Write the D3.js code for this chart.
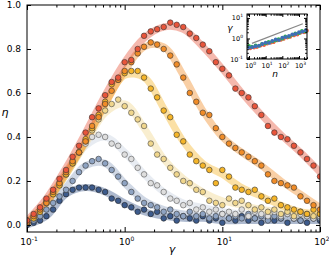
<!DOCTYPE html>
<html>
<head>
<meta charset="utf-8">
<script src="https://cdn.jsdelivr.net/npm/d3@7"></script>
<style>
body { margin: 0; background: #fff; }
svg { display: block; }
text { font-family: "DejaVu Sans", sans-serif; fill: #000; }
</style>
</head>
<body>
<svg id="chart" width="329" height="257"></svg>
<script>
// gamma values of the measured points (shared by all series)
var gammas = [0.100,0.117,0.136,0.158,0.185,0.215,0.251,0.293,0.341,0.398,0.464,0.541,0.631,0.736,0.858,
  1.00,1.17,1.36,1.58,1.85,2.15,2.51,2.93,3.41,3.98,4.64,5.41,6.31,7.36,8.58,
  10.0,11.7,13.6,15.8,18.5,21.5,25.1,29.3,34.1,39.8,46.4,54.1,63.1,73.6,85.8,100];

var etaRed = [0.02,0.05,0.08,0.12,0.16,0.21,0.25,0.31,0.36,0.42, 0.49,0.53,0.59,0.65,0.67,0.74,0.75,0.80,0.86,0.88,
  0.89,0.90,0.92,0.91,0.90,0.87,0.85,0.82,0.79,0.74, 0.71,0.68,0.62,0.60,0.58,0.54,0.50,0.45,0.42,0.40,
  0.39,0.36,0.33,0.30,0.27,0.22];
var etaOrange = [0.01,0.04,0.07,0.10,0.15,0.19,0.24,0.29,0.33,0.38, 0.45,0.49,0.55,0.61,0.66,0.70,0.74,0.78,0.81,0.83,
  0.82,0.80,0.77,0.73,0.67,0.60,0.56,0.51,0.50,0.44, 0.40,0.37,0.35,0.33,0.31,0.29,0.27,0.23,0.20,0.19,
  0.18,0.17,0.13,0.11,0.09,0.07];
var etaAmber = [0.02,0.03,0.06,0.11,0.14,0.18,0.23,0.28,0.33,0.39, 0.44,0.50,0.56,0.64,0.66,0.69,0.70,0.70,0.67,0.62,
  0.58,0.52,0.49,0.41,0.38,0.32,0.29,0.27,0.25,0.19, 0.25,0.22,0.17,0.16,0.15,0.16,0.13,0.11,0.12,0.09,
  0.08,0.07,0.06,0.05,0.07,0.05];
var etaPale = [0.01,0.04,0.07,0.10,0.14,0.19,0.23,0.28,0.33,0.38, 0.43,0.48,0.52,0.55,0.57,0.54,0.51,0.48,0.45,0.37,
  0.32,0.30,0.26,0.23,0.20,0.19,0.16,0.15,0.11,0.10, 0.09,0.12,0.10,0.11,0.09,0.07,0.08,0.06,0.07,0.05,
  0.06,0.04,0.06,0.05,0.04,0.05];
var etaGray = [0.02,0.03,0.06,0.10,0.15,0.18,0.23,0.29,0.33,0.37, 0.40,0.41,0.40,0.37,0.36,0.32,0.30,0.26,0.23,0.19,
  0.18,0.15,0.12,0.11,0.09,0.10,0.07,0.08,0.06,0.07, 0.05,0.06,0.05,0.07,0.04,0.06,0.05,0.04,0.06,0.04,
  0.05,0.03,0.05,0.04,0.03,0.04];
var etaSteel = [0.01,0.02,0.04,0.07,0.10,0.13,0.16,0.20,0.24,0.27, 0.29,0.30,0.28,0.25,0.22,0.19,0.15,0.12,0.10,0.09,
  0.08,0.06,0.07,0.05,0.04,0.06,0.04,0.05,0.03,0.04, 0.05,0.03,0.04,0.03,0.05,0.03,0.04,0.02,0.04,0.03,
  0.05,0.03,0.02,0.04,0.03,0.03];
var etaNavy = [0.00,0.01,0.02,0.04,0.07,0.11,0.14,0.16,0.17,0.17, 0.17,0.16,0.15,0.12,0.11,0.09,0.08,0.06,0.07,0.05,
  0.06,0.03,0.04,0.02,0.04,0.03,0.02,0.04,0.02,0.03, 0.01,0.03,0.02,0.04,0.02,0.03,0.01,0.03,0.02,0.03,
  0.01,0.03,0.02,0.01,0.03,0.02];

// smooth guide curves (thick pale bands)
var bandGammas = [0.1,0.158,0.251,0.398,0.631,1,1.585,2.512,3.981,6.31,10,15.85,25.12,39.81,63.1,100];
var bandRed    = [0.02,0.12,0.26,0.42,0.59,0.74,0.85,0.90,0.89,0.81,0.71,0.60,0.50,0.41,0.33,0.24];
var bandOrange = [0.01,0.10,0.24,0.38,0.55,0.70,0.81,0.81,0.68,0.52,0.40,0.33,0.27,0.20,0.14,0.08];
var bandAmber  = [0.01,0.10,0.23,0.38,0.55,0.68,0.67,0.53,0.38,0.28,0.23,0.17,0.13,0.09,0.06,0.05];
var bandPale   = [0.01,0.10,0.23,0.37,0.51,0.55,0.44,0.30,0.21,0.15,0.11,0.09,0.07,0.06,0.05,0.05];
var bandGray   = [0.01,0.10,0.23,0.36,0.40,0.33,0.23,0.15,0.10,0.08,0.06,0.05,0.05,0.04,0.04,0.04];
var bandSteel  = [0.01,0.07,0.17,0.27,0.28,0.19,0.11,0.07,0.05,0.04,0.04,0.035,0.035,0.03,0.03,0.03];
var bandNavy   = [0.00,0.04,0.14,0.17,0.15,0.10,0.06,0.04,0.03,0.03,0.02,0.02,0.02,0.02,0.02,0.02];

var yTicks = [0, 0.2, 0.4, 0.6, 0.8, 1.0];
var xTicks = [0.1, 1, 10, 100];
var xTickExp = ["-1", "0", "1", "2"];

// inset: gamma* vs n
var insetNBlue = [1,1.6,2.5,4,6.3,10,16,25,40,63,100,160,250,400,630,1000,1600,2500];
var insetGBlue = [0.355,0.38,0.417,0.447,0.537,0.631,0.603,0.759,0.891,0.832,1.10,1.17,1.32,1.58,1.66,2.0,2.14,2.51];
var insetNGreen = [1,1.5,2.5,4,6,10,15,25,40,60,100,150,250,400,600,1000,1500,2500];
var insetGGreen = [0.43,0.40,0.46,0.44,0.55,0.58,0.68,0.72,0.80,0.93,0.98,1.25,1.2,1.5,1.75,1.8,2.3,2.2];
var insetNRed = [1.2,2,3,5,8,12,20,30,50,80,120,200,300,500,800,1200,2000,3000];
var insetGRed = [0.33,0.36,0.38,0.45,0.48,0.56,0.62,0.66,0.8,0.85,0.95,1.1,1.2,1.4,1.55,1.9,2.0,2.4];
var insetLineN = [1.5, 1700];
var insetLineG = [0.58, 5.2];
var insetXTicks = [1, 10, 100, 1000];
var insetXExp = ["0", "1", "2", "3"];
var insetYTicks = [0.1, 1, 10];
var insetYExp = ["-1", "0", "1"];

var series = [
  {eta: etaNavy,   band: bandNavy,   color: "#3d5b8c", bandColor: "#3d5b8c", stroke: "#222"},
  {eta: etaSteel,  band: bandSteel,  color: "#8ea3c2", bandColor: "#8ea3c2", stroke: "#333"},
  {eta: etaGray,   band: bandGray,   color: "#dedede", bandColor: "#c9d2df", stroke: "#555"},
  {eta: etaPale,   band: bandPale,   color: "#f0d68c", bandColor: "#f0d68c", stroke: "#444"},
  {eta: etaAmber,  band: bandAmber,  color: "#f5b529", bandColor: "#f5b529", stroke: "#333"},
  {eta: etaOrange, band: bandOrange, color: "#f08c28", bandColor: "#f08c28", stroke: "#333"},
  {eta: etaRed,    band: bandRed,    color: "#e8553b", bandColor: "#e8553b", stroke: "#333"}
];

var svg = d3.select("#chart");
var L = 27, R = 320, T = 5, B = 232;

var x = d3.scaleLog().domain([0.1, 100]).range([L, R]);
var y = d3.scaleLinear().domain([-0.032, 1.0]).range([B, T]);

function minorLog(lo, hi) {
  var out = [];
  for (var e = Math.floor(Math.log10(lo)); e <= Math.ceil(Math.log10(hi)); e++) {
    for (var k = 2; k <= 9; k++) {
      var v = k * Math.pow(10, e);
      if (v > lo && v < hi) out.push(v);
    }
  }
  return out;
}

svg.append("defs").append("clipPath").attr("id", "clip")
  .append("rect").attr("x", L).attr("y", T).attr("width", R - L).attr("height", B - T);

var plot = svg.append("g").attr("clip-path", "url(#clip)");

var bandLine = d3.line()
  .x(function(d, i) { return x(bandGammas[i]); })
  .y(function(d) { return y(d); })
  .curve(d3.curveCatmullRom.alpha(0.5));

series.forEach(function(s) {
  plot.append("path")
    .attr("d", bandLine(s.band))
    .attr("fill", "none")
    .attr("stroke", s.bandColor)
    .attr("stroke-opacity", 0.42)
    .attr("stroke-width", 7)
    .attr("stroke-linecap", "round");
});

series.forEach(function(s) {
  plot.append("g").selectAll("circle").data(s.eta).enter().append("circle")
    .attr("cx", function(d, i) { return x(gammas[i]); })
    .attr("cy", function(d) { return y(d); })
    .attr("r", 2.8)
    .attr("fill", s.color)
    .attr("stroke", s.stroke)
    .attr("stroke-width", 0.6);
});

// frame
svg.append("rect").attr("x", L).attr("y", T).attr("width", R - L).attr("height", B - T)
  .attr("fill", "none").attr("stroke", "#000").attr("stroke-width", 1);

function cleanAxis(g) {
  g.select(".domain").remove();
  g.selectAll("line").attr("stroke", "#000");
}

svg.append("g").attr("transform", "translate(0," + B + ")")
  .call(d3.axisBottom(x).tickValues(xTicks).tickSize(-5).tickFormat(""))
  .call(cleanAxis);
svg.append("g").attr("transform", "translate(0," + B + ")")
  .call(d3.axisBottom(x).tickValues(minorLog(0.1, 100)).tickSize(-2.5).tickFormat(""))
  .call(cleanAxis);
svg.append("g").attr("transform", "translate(0," + T + ")")
  .call(d3.axisTop(x).tickValues(xTicks).tickSize(-5).tickFormat(""))
  .call(cleanAxis);
svg.append("g").attr("transform", "translate(0," + T + ")")
  .call(d3.axisTop(x).tickValues(minorLog(0.1, 100)).tickSize(-2.5).tickFormat(""))
  .call(cleanAxis);
svg.append("g").attr("transform", "translate(" + L + ",0)")
  .call(d3.axisLeft(y).tickValues(yTicks).tickSize(-4).tickPadding(6).tickFormat(d3.format(".1f")))
  .call(cleanAxis)
  .selectAll("text").attr("font-size", 9).attr("font-family", "DejaVu Sans");
svg.append("g").attr("transform", "translate(" + R + ",0)")
  .call(d3.axisRight(y).tickValues(yTicks).tickSize(-4).tickFormat(""))
  .call(cleanAxis);

// x tick labels with exponent
xTicks.forEach(function(v, i) {
  var t = svg.append("text").attr("x", x(v) + 2).attr("y", 245)
    .attr("text-anchor", "middle").attr("font-size", 9);
  t.append("tspan").text("10");
  t.append("tspan").attr("dy", -4).attr("font-size", 6).text(xTickExp[i]);
});

svg.append("text").attr("x", 5).attr("y", 116).attr("text-anchor", "middle")
  .attr("font-size", 11).attr("font-style", "italic").text("η");
svg.append("text").attr("x", 172).attr("y", 253).attr("text-anchor", "middle")
  .attr("font-size", 11).attr("font-style", "italic").text("γ");

// ---- inset ----
var iL = 247, iR = 307, iT = 14, iB = 59;
var ix = d3.scaleLog().domain([Math.pow(10, -0.12), Math.pow(10, 3.48)]).range([iL, iR]);
var iy = d3.scaleLog().domain([0.1, 15.5]).range([iB, iT]);

svg.append("rect").attr("x", iL).attr("y", iT).attr("width", iR - iL).attr("height", iB - iT)
  .attr("fill", "#fff");

var inset = svg.append("g");
inset.append("line")
  .attr("x1", ix(insetLineN[0])).attr("y1", iy(insetLineG[0]))
  .attr("x2", ix(insetLineN[1])).attr("y2", iy(insetLineG[1]))
  .attr("stroke", "#888").attr("stroke-width", 1.3);

[[insetNRed, insetGRed, "#f0603f"], [insetNGreen, insetGGreen, "#2fb44c"], [insetNBlue, insetGBlue, "#3f6fb6"]]
  .forEach(function(s) {
    inset.append("g").selectAll("circle").data(s[1]).enter().append("circle")
      .attr("cx", function(d, i) { return ix(s[0][i]); })
      .attr("cy", function(d) { return iy(d); })
      .attr("r", 1.9)
      .attr("fill", s[2]);
  });

svg.append("rect").attr("x", iL).attr("y", iT).attr("width", iR - iL).attr("height", iB - iT)
  .attr("fill", "none").attr("stroke", "#000").attr("stroke-width", 1);

var ixMinor = minorLog(ix.domain()[0], ix.domain()[1]);
var iyMinor = minorLog(0.1, 15.5);
svg.append("g").attr("transform", "translate(0," + iB + ")")
  .call(d3.axisBottom(ix).tickValues(insetXTicks).tickSize(-3).tickFormat("")).call(cleanAxis);
svg.append("g").attr("transform", "translate(0," + iB + ")")
  .call(d3.axisBottom(ix).tickValues(ixMinor).tickSize(-1.8).tickFormat("")).call(cleanAxis);
svg.append("g").attr("transform", "translate(0," + iT + ")")
  .call(d3.axisTop(ix).tickValues(insetXTicks).tickSize(-3).tickFormat("")).call(cleanAxis);
svg.append("g").attr("transform", "translate(0," + iT + ")")
  .call(d3.axisTop(ix).tickValues(ixMinor).tickSize(-1.8).tickFormat("")).call(cleanAxis);
svg.append("g").attr("transform", "translate(" + iL + ",0)")
  .call(d3.axisLeft(iy).tickValues(insetYTicks).tickSize(-3).tickFormat("")).call(cleanAxis);
svg.append("g").attr("transform", "translate(" + iL + ",0)")
  .call(d3.axisLeft(iy).tickValues(iyMinor).tickSize(-1.8).tickFormat("")).call(cleanAxis);
svg.append("g").attr("transform", "translate(" + iR + ",0)")
  .call(d3.axisRight(iy).tickValues(insetYTicks).tickSize(-3).tickFormat("")).call(cleanAxis);
svg.append("g").attr("transform", "translate(" + iR + ",0)")
  .call(d3.axisRight(iy).tickValues(iyMinor).tickSize(-1.8).tickFormat("")).call(cleanAxis);

insetXTicks.forEach(function(v, i) {
  var t = svg.append("text").attr("x", ix(v) + 1.5).attr("y", 68)
    .attr("text-anchor", "middle").attr("font-size", 6.5);
  t.append("tspan").text("10");
  t.append("tspan").attr("dy", -3).attr("font-size", 4.5).text(insetXExp[i]);
});
insetYTicks.forEach(function(v, i) {
  var t = svg.append("text").attr("x", iL - 4).attr("y", iy(v) + 2.5)
    .attr("text-anchor", "end").attr("font-size", 6.5);
  t.append("tspan").text("10");
  t.append("tspan").attr("dy", -3).attr("font-size", 4.5).text(insetYExp[i]);
});
svg.append("text").attr("x", 230).attr("y", 31).attr("text-anchor", "middle")
  .attr("font-size", 9).attr("font-style", "italic").text("γ");
svg.append("text").attr("x", 275).attr("y", 77).attr("text-anchor", "middle")
  .attr("font-size", 9).attr("font-style", "italic").text("n");
</script>
</body>
</html>
